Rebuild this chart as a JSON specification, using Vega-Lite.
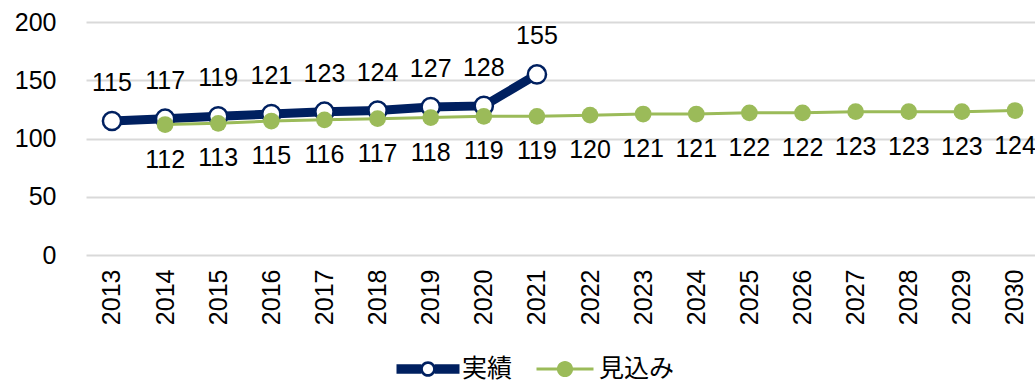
{
  "$schema": "https://vega.github.io/schema/vega-lite/v6.json",
  "width": 949,
  "height": 233,
  "autosize": "none",
  "padding": {"left": 86, "top": 22, "right": 0, "bottom": 125},
  "background": "white",
  "config": {
    "view": {"stroke": null},
    "font": "Liberation Sans",
    "axis": {"labelFont": "Liberation Sans", "labelFontSize": 25, "labelColor": "#000000", "domain": false, "ticks": false, "title": null}
  },
  "data": {
    "values": [
      {"year": "2013", "series": "実績", "value": 115},
      {"year": "2014", "series": "実績", "value": 117},
      {"year": "2015", "series": "実績", "value": 119},
      {"year": "2016", "series": "実績", "value": 121},
      {"year": "2017", "series": "実績", "value": 123},
      {"year": "2018", "series": "実績", "value": 124},
      {"year": "2019", "series": "実績", "value": 127},
      {"year": "2020", "series": "実績", "value": 128},
      {"year": "2021", "series": "実績", "value": 155},
      {"year": "2014", "series": "見込み", "value": 112},
      {"year": "2015", "series": "見込み", "value": 113},
      {"year": "2016", "series": "見込み", "value": 115},
      {"year": "2017", "series": "見込み", "value": 116},
      {"year": "2018", "series": "見込み", "value": 117},
      {"year": "2019", "series": "見込み", "value": 118},
      {"year": "2020", "series": "見込み", "value": 119},
      {"year": "2021", "series": "見込み", "value": 119},
      {"year": "2022", "series": "見込み", "value": 120},
      {"year": "2023", "series": "見込み", "value": 121},
      {"year": "2024", "series": "見込み", "value": 121},
      {"year": "2025", "series": "見込み", "value": 122},
      {"year": "2026", "series": "見込み", "value": 122},
      {"year": "2027", "series": "見込み", "value": 123},
      {"year": "2028", "series": "見込み", "value": 123},
      {"year": "2029", "series": "見込み", "value": 123},
      {"year": "2030", "series": "見込み", "value": 124}
    ]
  },
  "encoding": {
    "x": {
      "field": "year",
      "type": "ordinal",
      "sort": null,
      "scale": {"type": "point", "padding": 0.433, "align": 0.565, "domain": ["2013","2014","2015","2016","2017","2018","2019","2020","2021","2022","2023","2024","2025","2026","2027","2028","2029","2030"]},
      "axis": {"labelAngle": -90, "labelAlign": "right", "labelBaseline": "middle", "labelPadding": 14, "grid": false}
    },
    "y": {
      "field": "value",
      "type": "quantitative",
      "scale": {"domain": [0, 200], "nice": false},
      "axis": {"values": [0, 50, 100, 150, 200], "grid": true, "gridColor": "#d9d9d9", "gridWidth": 2, "labelPadding": 30}
    }
  },
  "layer": [
    {
      "transform": [{"filter": "datum.series === '実績'"}],
      "mark": {"type": "line", "color": "#002060", "strokeWidth": 9}
    },
    {
      "transform": [{"filter": "datum.series === '実績'"}],
      "mark": {"type": "point", "shape": "circle", "filled": true, "fill": "white", "stroke": "#002060", "strokeWidth": 2.5, "size": 330, "opacity": 1}
    },
    {
      "transform": [{"filter": "datum.series === '見込み'"}],
      "mark": {"type": "line", "color": "#9bbb59", "strokeWidth": 3}
    },
    {
      "transform": [{"filter": "datum.series === '見込み'"}],
      "mark": {"type": "point", "shape": "circle", "filled": true, "color": "#9bbb59", "size": 280, "opacity": 1}
    },
    {
      "transform": [{"filter": "datum.series === '実績'"}],
      "mark": {"type": "text", "dy": -38, "fontSize": 25, "color": "#000000", "baseline": "middle", "align": "center"},
      "encoding": {"text": {"field": "value", "type": "quantitative"}}
    },
    {
      "transform": [{"filter": "datum.series === '見込み'"}],
      "mark": {"type": "text", "dy": 35, "fontSize": 25, "color": "#000000", "baseline": "middle", "align": "center"},
      "encoding": {"text": {"field": "value", "type": "quantitative"}}
    },
    {
      "transform": [{"filter": "datum.value < 0"}],
      "mark": {"type": "point", "filled": true, "strokeWidth": 0, "opacity": 1},
      "encoding": {
        "shape": {
          "field": "series",
          "type": "nominal",
          "scale": {
            "domain": ["実績", "見込み"],
            "range": [
              "M-2.1,-0.32 H-0.44 V0.32 H-2.1 Z M0.44,-0.32 H2.1 V0.32 H0.44 Z M0.52,0 A0.52,0.52 0 1,1 -0.52,0 A0.52,0.52 0 1,1 0.52,0 Z M0.34,0 A0.34,0.34 0 1,0 -0.34,0 A0.34,0.34 0 1,0 0.34,0 Z",
              "M-1.9,-0.1 H1.9 V0.1 H-1.9 Z M0.54,0 A0.54,0.54 0 1,1 -0.54,0 A0.54,0.54 0 1,1 0.54,0 Z"
            ]
          },
          "legend": {
            "title": null,
            "orient": "none",
            "direction": "horizontal",
            "legendX": 327,
            "legendY": 332,
            "padding": 0,
            "symbolSize": 900,
            "symbolStrokeWidth": 0,
            "symbolOpacity": 1,
            "labelOffset": 19,
            "columnPadding": 23,
            "labelFont": "Noto Sans CJK JP",
            "labelFontSize": 25,
            "labelColor": "#000000"
          }
        },
        "fill": {
          "field": "series",
          "type": "nominal",
          "scale": {"domain": ["実績", "見込み"], "range": ["#002060", "#9bbb59"]},
          "legend": {
            "title": null,
            "orient": "none",
            "direction": "horizontal",
            "legendX": 327,
            "legendY": 332,
            "padding": 0,
            "symbolSize": 900,
            "symbolStrokeWidth": 0,
            "symbolOpacity": 1,
            "labelOffset": 19,
            "columnPadding": 23,
            "labelFont": "Noto Sans CJK JP",
            "labelFontSize": 25,
            "labelColor": "#000000"
          }
        }
      }
    }
  ]
}
